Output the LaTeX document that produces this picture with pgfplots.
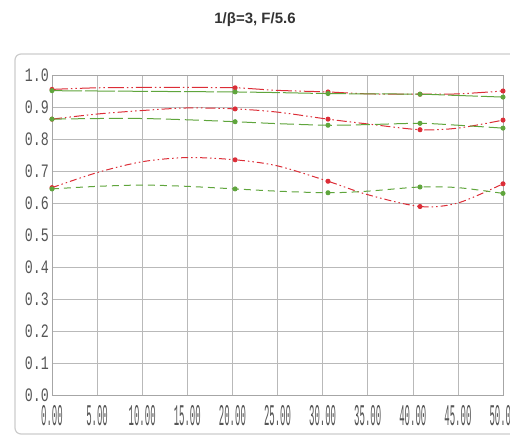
\documentclass[border=0pt]{standalone}
\usepackage{pgfplots}
\pgfplotsset{compat=1.18}
\usepackage{fontspec}
\setmainfont{Liberation Sans}
\newfontfamily\tickfont{Liberation Mono}
\usepackage{graphicx}
\definecolor{rd}{RGB}{220,45,55}
\definecolor{gr}{RGB}{95,165,60}
\definecolor{tk}{RGB}{85,85,85}
\begin{document}
\begin{tikzpicture}
\begin{axis}[
  scale only axis, width=451pt, height=320pt,
  xmin=0, xmax=50, ymin=0, ymax=1,
  xtick={0,5,...,50}, ytick={0,0.1,...,1.0},
  xticklabels={0.00,5.00,10.00,15.00,20.00,25.00,30.00,35.00,40.00,45.00,50.00},
  yticklabels={0.0,0.1,0.2,0.3,0.4,0.5,0.6,0.7,0.8,0.9,1.0},
  xticklabel style={font=\tickfont\fontsize{30}{30}\selectfont, text=tk, xscale=0.3, transform shape, anchor=north, yshift=-7pt},
  yticklabel style={font=\tickfont\fontsize{19}{19}\selectfont, text=tk, xscale=0.7, transform shape, xshift=-1pt},
  grid=major, major grid style={gray!55, line width=0.6pt},
  axis line style={gray!70, line width=0.6pt},
  major tick length=0pt,
  clip=false,
  every axis plot/.append style={line width=1pt, smooth, tension=0.5, mark=*, mark size=2pt, mark options={solid}, mark indices={1,5,7,9,11}},
]
% top pair
\addplot[rd, dash pattern=on 16pt off 3pt on 1.5pt off 3pt on 1.5pt off 3pt]
 coordinates {(0,0.955)(5,0.960)(10,0.961)(15,0.961)(20.3,0.960)(25,0.952)(30.6,0.947)(35,0.941)(40.8,0.940)(45,0.941)(50,0.950)};
\addplot[gr, dash pattern=on 30pt off 3pt]
 coordinates {(0,0.951)(5,0.950)(10,0.949)(15,0.948)(20.3,0.947)(25,0.945)(30.6,0.942)(35,0.941)(40.8,0.940)(45,0.936)(50,0.931)};
% middle pair
\addplot[rd, dash pattern=on 10pt off 3pt on 1.5pt off 3pt on 1.5pt off 3pt]
 coordinates {(0,0.862)(5,0.878)(10,0.889)(15,0.897)(20.3,0.894)(25,0.884)(30.6,0.862)(35,0.847)(40.8,0.829)(45,0.834)(50,0.859)};
\addplot[gr, dash pattern=on 14pt off 5pt]
 coordinates {(0,0.862)(5,0.864)(10,0.864)(15,0.860)(20.3,0.854)(25,0.848)(30.6,0.843)(35,0.845)(40.8,0.849)(45,0.843)(50,0.834)};
% bottom pair
\addplot[rd, dash pattern=on 7pt off 3pt on 1.5pt off 3pt on 1.5pt off 3pt]
 coordinates {(0,0.648)(5,0.695)(10,0.729)(15,0.742)(20.3,0.735)(25,0.716)(30.6,0.668)(35,0.626)(40.8,0.589)(45,0.600)(50,0.660)};
\addplot[gr, dash pattern=on 7pt off 5pt]
 coordinates {(0,0.644)(5,0.652)(10,0.656)(15,0.652)(20.3,0.644)(25,0.637)(30.6,0.632)(35,0.637)(40.8,0.650)(45,0.648)(50,0.630)};
\end{axis}
\draw[gray!40, line width=1.2pt, rounded corners=6pt]
  ([shift={(-37pt,-39pt)}]current axis.south west) rectangle ([shift={(20pt,21pt)}]current axis.north east);
\node[font=\bfseries\fontsize{15}{15}\selectfont, text=black!80] at ([shift={(203pt,55pt)}]current axis.north west) {1/β=3, F/5.6};
\pgfresetboundingbox
\path[use as bounding box] ([shift={(-52pt,-44pt)}]current axis.south west) rectangle ([shift={(7pt,75pt)}]current axis.north east);
\end{tikzpicture}
\end{document}
